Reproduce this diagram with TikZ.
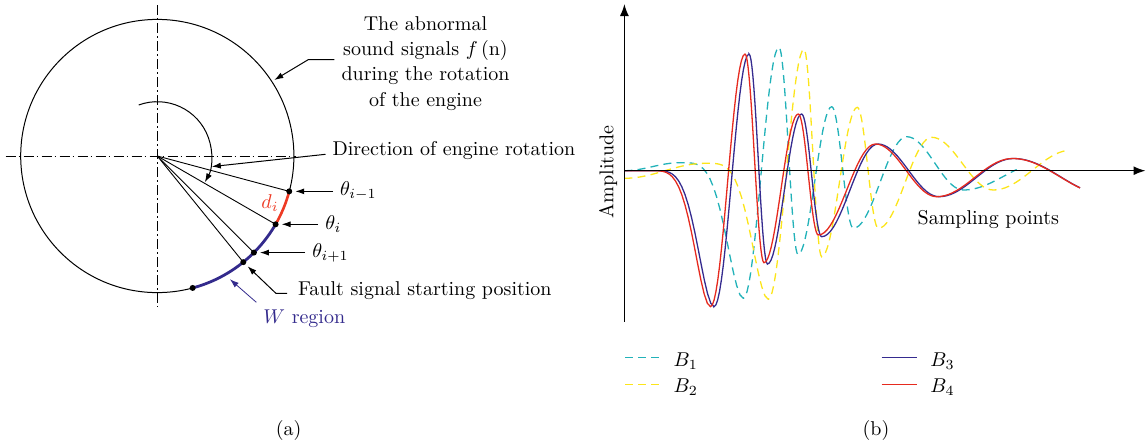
\documentclass[tikz,border=0pt]{standalone}
\usetikzlibrary{arrows.meta}
\definecolor{FaultRed}{HTML}{EE3A24}
\definecolor{RegionBlue}{HTML}{332A8C}
\definecolor{WaveCyan}{HTML}{22B2B9}
\definecolor{WaveYellow}{HTML}{FCE51A}
\definecolor{WaveBlue}{HTML}{352B8F}
\definecolor{WaveRed}{HTML}{E62A1E}

\begin{document}
\begin{tikzpicture}[x=0.5pt,y=-0.5pt,
    declare function={hw(\t,\q)=(1-cos(180*\t*(1+(\q-1)*(\t-1))))/2;},
    callout/.style={-{Latex[length=4.5pt,width=3pt]},line width=0.5pt},
    centerline/.style={line width=0.45pt,dash pattern=on 5pt off 1.6pt on 0.8pt off 1.6pt},
    wave/.style={line width=0.65pt},
    dashwave/.style={wave,dash pattern=on 4pt off 2.6pt},
    axisarrow/.style={line width=0.7pt,-{Latex[length=6pt,width=4.5pt]}}]
  \useasboundingbox (0,0) rectangle (1146,445);
  % (a) engine circle
  \coordinate (O) at (157.3,156);
  \draw[centerline] (157.3,5) -- (157.3,307);
  \draw[centerline] (5.5,156) -- (296,156);
  \draw[line width=0.5pt] (O) circle[radius=136.6];
  \foreach \a [count=\i] in {15,30,45,51,75}
    \path (O) ++(\a:136.6) coordinate (p\i);
  \foreach \i in {1,...,4}
    \draw[line width=0.45pt] (O) -- (p\i);
  \draw[FaultRed,line width=1.3pt] (p1) arc[start angle=15,end angle=30,radius=136.6];
  \draw[RegionBlue,line width=1.4pt] (p2) arc[start angle=30,end angle=75,radius=136.6];
  \foreach \i in {1,...,5}
    \fill (p\i) circle[radius=3];
  % rotation direction
  \draw[callout] ([shift={(-110:54.3)}]O) arc[start angle=-110,end angle=29,radius=54.3];
  \path (O) ++(11:55.5) coordinate (rot);
  \path (O) ++(-33:139.5) coordinate (hit);
  \path (O) ++(59.5:143) coordinate (wtip);
  % labels
  \node[align=center] (sig) at (425.5,63.5) {The abnormal\\[0.6pt]sound signals $f\,$(n)\\[0.6pt]during the rotation\\[0.6pt]of the engine};
  \draw[callout] ([yshift=2pt]sig.west) -- ++(-26,0) -- (hit);
  \node[anchor=west] (dir) at (325.5,150.7) {Direction of engine rotation};
  \draw[callout] ([yshift=-1.8pt]dir.west) -- (rot);
  \foreach \p/\x/\lab in {p1/333/{\theta_{i-1}},p2/318.2/{\theta_i},p3/305.2/{\theta_{i+1}}}
    \node[anchor=west] (l\p) at (\x,0 |- \p) {$\lab$};
  \foreach \p in {p1,p2,p3}
    \draw[callout,shorten >=3pt] (l\p.west) -- (l\p.west -| \p);
  \node[anchor=west] (fault) at (291,291) {Fault signal starting position};
  \draw[callout,shorten >=3pt] ([xshift=-2pt,yshift=-1.2pt]fault.west) -- ++(-11,0) -- (p4);
  \node[text=FaultRed] (di) at (270,203.3) {$d_i$};
  \node[text=RegionBlue] (wreg) at (304.3,318.3) {$W$ region};
  \draw[callout,RegionBlue,line width=0.4pt] (wreg.north west) -- (wtip);
  \node (capa) at (288.6,430) {(a)};

  % (b) waveforms, half waves between extremes
  \coordinate (org) at (624.4,170.7);
  \coordinate (ytop) at (624.4,4);
  \coordinate (ybot) at (624.4,321.7);
  \coordinate (xend) at (1145.5,170.7);
  \draw[WaveCyan,dashwave] (624.4,170.7)
    \foreach \xb/\yb/\q [remember=\xb as \xa (initially 624.4),remember=\yb as \ya (initially 170.7)]
      in {680/162.7/1,743.3/298.3/2,779/47.3/1,798/254.5/1,831.7/106.7/1,853.3/228.3/1,906.7/136.7/1,963.3/190/1}
      { -- plot[domain=\xa:\xb,samples=20] (\x,{\ya+(\yb-\ya)*hw((\x-\xa)/(\xb-\xa),\q)}) }
    -- plot[domain=963.3:1016.7,samples=20] (\x,{190-28*hw((\x-963.3)/81.7,1)});
  \draw[WaveYellow,dashwave] (624.4,178.3)
    \foreach \xb/\yb/\q [remember=\xb as \xa (initially 624.4),remember=\yb as \ya (initially 178.3)]
      in {705/163.3/1,768.3/299.3/2,804/49.3/1,821.7/256.7/1,857.3/107.3/1,878.3/228.3/1,931.7/137.3/1,993.3/190/1}
      { -- plot[domain=\xa:\xb,samples=20] (\x,{\ya+(\yb-\ya)*hw((\x-\xa)/(\xb-\xa),\q)}) }
    -- plot[domain=993.3:1066.7,samples=20] (\x,{190-40*hw((\x-993.3)/78.7,1)});
  \draw[WaveBlue,wave] (624.4,170.7)
    \foreach \xb/\yb/\q [remember=\xb as \xa (initially 624.4),remember=\yb as \ya (initially 170.7)]
      in {653/170.7/1,714/306.7/2,749/54/1,767.5/264/1,801.6/114/1,821.7/236.7/1,878/144/1,939/196.7/1,1013.5/158.5/1}
      { -- plot[domain=\xa:\xb,samples=20] (\x,{\ya+(\yb-\ya)*hw((\x-\xa)/(\xb-\xa),\q)}) }
    -- plot[domain=1013.5:1080,samples=20] (\x,{158.5+36.5*hw((\x-1013.5)/94,1)});
  \draw[WaveRed,wave] (624.4,170.7)
    \foreach \xb/\yb/\q [remember=\xb as \xa (initially 624.4),remember=\yb as \ya (initially 170.7)]
      in {650/170.7/1,710.5/306.7/2,745/54/1,764/262.7/1,798.3/114/1,818.3/235/1,875.5/144/1,936.7/196.7/1,1012.5/158.5/1}
      { -- plot[domain=\xa:\xb,samples=20] (\x,{\ya+(\yb-\ya)*hw((\x-\xa)/(\xb-\xa),\q)}) }
    -- plot[domain=1012.5:1080,samples=20] (\x,{158.5+36.5*hw((\x-1012.5)/95,1)});
  \draw[axisarrow] (ybot) -- (ytop);
  \draw[axisarrow] (org) -- (xend);
  \node[rotate=90] (amp) at (608.2,171.7) {Amplitude};
  \node (samp) at (988.3,220) {Sampling points};
  % legend
  \foreach \x/\y/\c/\s/\n in {625/357.7/WaveCyan/dashwave/1,625/384.3/WaveYellow/dashwave/2,881.7/357.7/WaveBlue/wave/3,881.7/384.3/WaveRed/wave/4} {
    \draw[\c,\s] (\x,\y) -- ++(35,0);
    \node[anchor=west] (key\n) at (\x+41.6,\y+3) {$B_\n$};
  }
  \node (capb) at (876,430) {(b)};
\end{tikzpicture}
\end{document}
